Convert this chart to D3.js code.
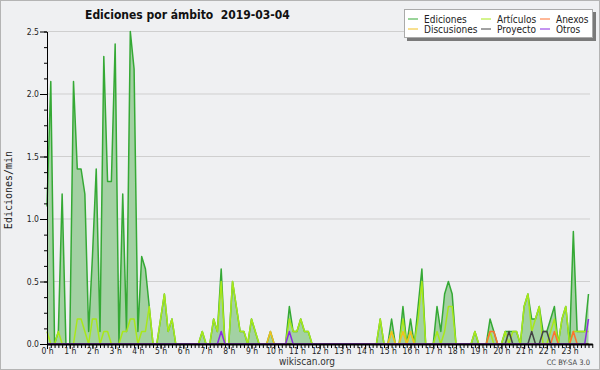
<!DOCTYPE html>
<html>
<head>
<meta charset="utf-8">
<script src="https://cdn.jsdelivr.net/npm/d3@7"></script>
<style>
  body { margin: 0; background: #fff; }
  svg text { font-family: "DejaVu Sans Condensed", "DejaVu Sans", sans-serif; font-stretch: condensed; }
</style>
</head>
<body>
<div id="chart"></div>
<script>
// 10-minute samples, edits per minute (144 per day)
const ediciones = [
  1.1,2.1,0,0.1,1.2,0,0,2.1,1.4,1.4,1.2,0.1,
  0.7,1.4,0.1,2.3,1.3,1.3,2.4,0,1.2,0.1,2.5,2.2,
  0.1,0.7,0.6,0.3,0,0,0.2,0.4,0.1,0.2,0,0,
  0,0,0,0,0,0.1,0,0,0.2,0.1,0.6,0,
  0,0.5,0.3,0.1,0.1,0,0.2,0.1,0,0,0,0.1,
  0,0,0,0,0.3,0.1,0.1,0.2,0.1,0.1,0,0,
  0,0,0,0,0,0,0,0,0,0,0,0,
  0,0,0,0,0.2,0,0,0.2,0,0,0.3,0,
  0.2,0,0.3,0.6,0,0,0,0.3,0.1,0.4,0.5,0.4,
  0,0,0,0,0,0.1,0,0,0,0.2,0.1,0,
  0,0.1,0.1,0.1,0.1,0,0.3,0.4,0.2,0.2,0.3,0.1,
  0.1,0.2,0.3,0,0.2,0.3,0,0.9,0.1,0.1,0.1,0.4
];
const articulos = [
  0.1,0,0,0.1,0,0,0,0,0.2,0.2,0.1,0,
  0.2,0.2,0,0.1,0.1,0,0,0,0.1,0.1,0.2,0.2,
  0,0.1,0.1,0.3,0,0,0.2,0.4,0.1,0.2,0,0,
  0,0,0,0,0,0.1,0,0,0.2,0.1,0.5,0,
  0,0.5,0.3,0.1,0.1,0,0.2,0.1,0,0,0,0,
  0,0,0,0,0.2,0.1,0.1,0.2,0.1,0.1,0,0,
  0,0,0,0,0,0,0,0,0,0,0,0,
  0,0,0,0,0.2,0,0,0.1,0,0,0.2,0,
  0.1,0,0.2,0.5,0,0,0,0.1,0,0.1,0.3,0.3,
  0,0,0,0,0,0.1,0,0,0,0.1,0,0,
  0,0.1,0,0.1,0.1,0,0.3,0.4,0.1,0.2,0.3,0,
  0,0.1,0.2,0,0.2,0.3,0,0.1,0.1,0.1,0.1,0.1
];
const discusiones = [
  0,0,0,0,0,0,0,0,0,0,0,0,
  0,0,0,0,0,0,0,0,0,0,0,0,
  0,0,0,0,0,0,0,0,0,0,0,0,
  0,0,0,0,0,0,0,0,0,0,0,0,
  0,0,0,0,0,0,0,0,0,0,0,0.1,
  0,0,0,0,0,0,0,0,0,0,0,0,
  0,0,0,0,0,0,0,0,0,0,0,0,
  0,0,0,0,0,0,0,0.1,0,0,0.1,0,
  0.1,0,0,0,0,0,0,0,0,0,0,0,
  0,0,0,0,0,0,0,0,0,0,0,0,
  0,0,0,0,0,0,0,0,0,0,0,0,
  0,0,0,0,0,0,0,0,0,0,0,0
];
const anexos = [
  0,0,0,0,0,0,0,0,0,0,0,0,
  0,0,0,0,0,0,0,0,0,0,0,0,
  0,0,0,0,0,0,0,0,0,0,0,0,
  0,0,0,0,0,0,0,0,0,0,0,0,
  0,0,0,0,0,0,0,0,0,0,0,0,
  0,0,0,0,0,0,0,0,0,0,0,0,
  0,0,0,0,0,0,0,0,0,0,0,0,
  0,0,0,0,0,0,0,0,0,0,0,0,
  0,0,0,0,0,0,0,0,0,0,0,0,
  0,0,0,0,0,0,0,0,0,0.1,0.1,0,
  0,0,0,0,0,0,0,0,0,0,0,0,
  0,0,0.1,0,0,0,0,0.1,0,0,0,0
];
const proyecto = [
  0,0,0,0,0,0,0,0,0,0,0,0,
  0,0,0,0,0,0,0,0,0,0,0,0,
  0,0,0,0,0,0,0,0,0,0,0,0,
  0,0,0,0,0,0,0,0,0,0,0,0,
  0,0,0,0,0,0,0,0,0,0,0,0,
  0,0,0,0,0,0,0,0,0,0,0,0,
  0,0,0,0,0,0,0,0,0,0,0,0,
  0,0,0,0,0,0,0,0,0,0,0,0,
  0,0,0,0,0,0,0,0,0,0,0,0,
  0,0,0,0,0,0,0,0,0,0,0,0,
  0,0,0.1,0,0,0,0,0,0.1,0,0,0.1,
  0.1,0,0,0,0,0,0,0,0,0,0,0
];
const otros = [
  0,0,0,0,0,0,0,0,0,0,0,0,
  0,0,0,0,0,0,0,0,0,0,0,0,
  0,0,0,0,0,0,0,0,0,0,0,0,
  0,0,0,0,0,0,0,0,0,0,0.1,0,
  0,0,0,0,0,0,0,0,0,0,0,0,
  0,0,0,0,0.1,0,0,0,0,0,0,0,
  0,0,0,0,0,0,0,0,0,0,0,0,
  0,0,0,0,0,0,0,0,0,0,0,0,
  0,0,0,0,0,0,0,0,0,0,0,0,
  0,0,0,0,0,0,0,0,0,0,0,0,
  0,0,0,0,0,0,0,0,0,0,0,0,
  0,0,0,0,0,0,0,0,0,0,0,0.2
];

const hourTicks = [0,1,2,3,4,5,6,7,8,9,10,11,12,13,14,15,16,17,18,19,20,21,22,23];
const yTicks = [0, 0.5, 1, 1.5, 2, 2.5];

const seriesNames = ["Ediciones", "Artículos", "Anexos", "Discusiones", "Proyecto", "Otros"];
const seriesColors = { "Ediciones": "#35a935", "Artículos": "#a8e81a", "Anexos": "#ff7030",
  "Discusiones": "#f0c020", "Proyecto": "#444444", "Otros": "#8a2be2" };

const width = 600, height = 370;
const margin = ({top: 31.5, right: 10, bottom: 26, left: 47});

const svg = d3.select("#chart").append("svg")
  .attr("width", width).attr("height", height);

svg.append("rect").attr("x", 0.5).attr("y", 0.5)
  .attr("width", width - 1).attr("height", height - 1)
  .attr("fill", "#eff0f2").attr("stroke", "#b4b4b4");

let x = d3.scaleLinear().domain([0, 24]).range([margin.left, margin.left + 24 * 22.72]);
let y = d3.scaleLinear().domain([0, 2.5]).range([height - margin.bottom, margin.top]);

// grid
svg.append("g").selectAll("line").data(yTicks.filter(d => d > 0)).join("line")
  .attr("x1", margin.left).attr("x2", 590)
  .attr("y1", d => y(d)).attr("y2", d => y(d))
  .attr("stroke", "#cfcfcf").attr("stroke-width", 1);

const xi = (d, i) => x(i / 6);

// ediciones area
svg.append("path").datum(ediciones)
  .attr("fill", "#a3d1a3")
  .attr("d", d3.area().x(xi).y0(y(0)).y1(d => y(d)));

let lineGen = d3.line().x(xi).y(d => y(d));

let drawn = [["Ediciones", ediciones], ["Artículos", articulos], ["Discusiones", discusiones],
  ["Anexos", anexos], ["Proyecto", proyecto], ["Otros", otros]];

drawn.forEach(s => {
  svg.append("path").datum(s[1])
    .attr("fill", "none")
    .attr("stroke", seriesColors[s[0]])
    .attr("stroke-width", 1.5)
    .attr("stroke-linejoin", "round")
    .attr("d", lineGen);
});

// y axis
let yMinor = d3.axisLeft(y).tickValues(d3.range(0, 2.501, 0.125)).tickSize(3).tickFormat("").tickSizeOuter(0);
let yMajor = d3.axisLeft(y).tickValues(yTicks).tickSize(7).tickPadding(1).tickFormat(d3.format(".1f")).tickSizeOuter(0);

svg.append("g").attr("transform", `translate(${margin.left},0)`).call(yMinor)
  .call(g => g.select(".domain").remove());
svg.append("g").attr("transform", `translate(${margin.left},0)`).call(yMajor)
  .call(g => g.selectAll("text").attr("font-size", 8.5).attr("fill", "#222")
    .style("font-family", '"DejaVu Sans Condensed", "DejaVu Sans", sans-serif'));

// x axis
let xMinor = d3.axisBottom(x).tickValues(d3.range(0, 24.01, 1 / 6)).tickSize(4).tickFormat("").tickSizeOuter(0);
let xMajor = d3.axisBottom(x).tickValues(hourTicks).tickSize(5).tickPadding(-1)
  .tickFormat(d => d + " h").tickSizeOuter(0);

svg.append("g").attr("transform", `translate(0,${y(0)})`).call(xMinor)
  .call(g => g.select(".domain").remove());
svg.append("g").attr("transform", `translate(0,${y(0)})`).call(xMajor)
  .call(g => g.select(".domain").attr("stroke-width", 2))
  .call(g => g.selectAll("text").attr("font-size", 8.5).attr("fill", "#222")
    .style("font-family", '"DejaVu Sans Condensed", "DejaVu Sans", sans-serif'));

// title
svg.append("text")
  .attr("x", 85).attr("y", 18.5)
  .attr("font-size", 12).attr("font-weight", "bold").attr("fill", "#111")
  .style("white-space", "pre")
  .text("Ediciones por ámbito  2019-03-04");

// y label
svg.append("text")
  .attr("transform", "translate(12,190) rotate(-90)")
  .attr("text-anchor", "middle")
  .attr("font-size", 10).attr("fill", "#222")
  .style("font-family", '"DejaVu Sans Mono", monospace')
  .text("Ediciones/min");

// legend
let legend = svg.append("g");
legend.append("rect").attr("x", 407).attr("y", 12).attr("width", 189).attr("height", 29).attr("fill", "#7a7a7a");
legend.append("rect").attr("x", 404.5).attr("y", 9.5).attr("width", 188).attr("height", 28)
  .attr("fill", "#fff").attr("stroke", "#aaa");

let legendPos = [[408, 19], [481, 19], [540, 19], [408, 29], [481, 29], [540, 29]];
seriesNames.forEach((name, i) => {
  let p = legendPos[i];
  legend.append("line").attr("x1", p[0]).attr("x2", p[0] + 10)
    .attr("y1", p[1]).attr("y2", p[1])
    .attr("stroke", seriesColors[name]).attr("stroke-width", 1);
  legend.append("text").attr("x", p[0] + 16).attr("y", p[1] + 3.5)
    .attr("font-size", 10).attr("fill", "#222").text(name);
});

// footer
svg.append("text").attr("x", 307).attr("y", 365).attr("text-anchor", "middle")
  .attr("font-size", 10).attr("fill", "#333").text("wikiscan.org");
svg.append("text").attr("x", 590).attr("y", 365).attr("text-anchor", "end")
  .attr("font-size", 7.5).attr("fill", "#444").text("CC BY-SA 3.0");
</script>
</body>
</html>
